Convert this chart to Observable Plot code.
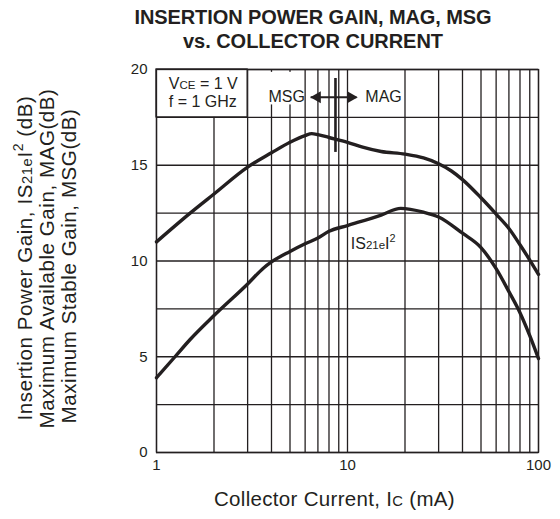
<!DOCTYPE html>
<html>
<head>
<meta charset="utf-8">
<script src="https://cdn.jsdelivr.net/npm/d3@7"></script>
<script src="https://cdn.jsdelivr.net/npm/@observablehq/plot@0.6"></script>
<style>
  html, body { margin: 0; padding: 0; background: white; }
  #wrap { width: 560px; height: 519px; position: relative; overflow: hidden; }
  #title { height: 56px; box-sizing: border-box; padding-top: 5px; padding-left: 66px; text-align: center;
           font-family: "Liberation Sans", Arial, sans-serif; font-weight: bold; font-size: 20px;
           line-height: 24px; color: #231f20; white-space: nowrap; }
  svg { display: block; }
</style>
</head>
<body>
<div id="wrap">
  <div id="title"><span class="tl">INSERTION POWER GAIN, MAG, MSG</span><br><span class="tl">vs. COLLECTOR CURRENT</span></div>
  <div id="chart"></div>
</div>
<script>
// ---- data ----
const xTicks = [1, 10, 100];
const yTicks = [0, 5, 10, 15, 20];
const xGrid = [1, 2, 3, 4, 5, 6, 7, 8, 9, 10, 20, 30, 40, 50, 60, 70, 80, 90, 100];
const yGrid = [0, 2.5, 5, 7.5, 10, 12.5, 15, 17.5, 20];

// MSG / MAG curve
const currentMag = [1, 1.5, 2, 3, 4, 5, 6, 6.5, 7, 8, 10, 12, 15, 20, 25, 30, 35, 40, 50, 60, 70, 80, 90, 100];
const gainMag    = [11.0, 12.5, 13.5, 14.9, 15.65, 16.2, 16.55, 16.65, 16.6, 16.45, 16.2, 15.95, 15.72, 15.58, 15.38, 15.08, 14.7, 14.25, 13.3, 12.45, 11.7, 10.85, 10.05, 9.3];

// |S21e|^2 curve
const currentS21 = [1, 1.25, 1.5, 2, 3, 3.65, 4, 5, 6, 7, 8, 10, 15, 19, 25, 30, 40, 50, 60, 70, 80, 90, 100];
const gainS21    = [3.9, 5.0, 5.9, 7.15, 8.8, 9.65, 9.95, 10.5, 10.9, 11.2, 11.55, 11.85, 12.4, 12.75, 12.55, 12.3, 11.45, 10.7, 9.6, 8.4, 7.3, 6.1, 4.9];

// annotations
const legendLines = ["V_{CE} = 1 V", "f = 1 GHz"];
const legendX = 1.16;
const legendY = [19.25, 18.3];
const legendBox = {x1: 1, x2: 3, y1: 17.5, y2: 20};
const msgBox = {x1: 3.85, x2: 5.95, y1: 18.15, y2: 19.85};
const msgLabel = {x: 4.8, y: 18.55, text: "MSG"};
const magLabel = {x: 12.4, y: 18.55, text: "MAG"};
const arrowLine = {x1: 6.45, x2: 11.2, y: 18.55};
const arrowHeads = [{x: 6.95, y: 18.55, rot: -90}, {x: 10.4, y: 18.55, rot: 90}];
const boundary = {x: 8.65, y1: 15.67, y2: 19.53};
const s21Label = {x: 10.4, y: 10.9, text: "IS_{21e}I^{2}"};
const xLabel = "Collector Current, I_{C} (mA)";
const yLabels = ["Insertion Power Gain, IS_{21e}I^{2} (dB)", "Maximum Available Gain, MAG(dB)", "Maximum Stable Gain, MSG(dB)"];

// text widths measured on the reference (px), used to match letter spacing
const titleWidths = [357, 260];
const xLabelWidth = 241;
const yLabelWidths = [325, 340, 315];

const ink = "#231f20";
const magData = currentMag.map((c, i) => ({c, g: gainMag[i]}));
const s21Data = currentS21.map((c, i) => ({c, g: gainS21[i]}));

const plot = Plot.plot({
  width: 560,
  height: 463,
  marginTop: 13,
  marginLeft: 156,
  marginRight: 22,
  marginBottom: 67,
  x: {type: "log", domain: [1, 100]},
  y: {domain: [0, 20]},
  style: {fontFamily: "'Liberation Sans', Arial, sans-serif", color: ink, background: "white", fontSize: "15px", overflow: "visible"},
  marks: [
    Plot.ruleX(xGrid, {stroke: ink, strokeWidth: 1.3}),
    Plot.ruleY(yGrid, {stroke: ink, strokeWidth: 1.3}),
    Plot.rect([legendBox], {x1: "x1", x2: "x2", y1: "y1", y2: "y2", fill: "white", stroke: ink, strokeWidth: 1.3}),
    Plot.rect([msgBox], {x1: "x1", x2: "x2", y1: "y1", y2: "y2", fill: "white"}),
    Plot.text(legendLines, {x: () => legendX, y: (d, i) => legendY[i], text: d => d, textAnchor: "start", fontSize: 16, fill: ink}),
    Plot.text([msgLabel], {x: "x", y: "y", text: "text", fontSize: 16, fill: ink}),
    Plot.text([magLabel], {x: "x", y: "y", text: "text", textAnchor: "start", fontSize: 16, fill: ink}),
    Plot.ruleY([arrowLine], {x1: "x1", x2: "x2", y: "y", stroke: ink, strokeWidth: 1.8}),
    Plot.dot(arrowHeads, {x: "x", y: "y", rotate: "rot", symbol: "triangle", r: 4.5, fill: ink, stroke: "none"}),
    Plot.ruleX([boundary], {x: "x", y1: "y1", y2: "y2", stroke: ink, strokeWidth: 2.6}),
    Plot.line(magData, {x: "c", y: "g", stroke: ink, strokeWidth: 3.4, curve: "monotone-x"}),
    Plot.line(s21Data, {x: "c", y: "g", stroke: ink, strokeWidth: 3.4, curve: "monotone-x"}),
    Plot.text([s21Label], {x: "x", y: "y", text: "text", textAnchor: "start", fontSize: 16, fill: ink}),
    Plot.frame({stroke: ink, strokeWidth: 1.3}),
    Plot.axisX(xTicks, {tickSize: 0, tickPadding: 7, fontSize: 15, label: null, tickFormat: d => String(d)}),
    Plot.axisY(yTicks, {tickSize: 0, tickPadding: 9, fontSize: 15, label: null, tickFormat: d => String(d)}),
    Plot.text([xLabel], {frameAnchor: "bottom", textAnchor: "middle", dy: 53, dx: -13, fontSize: 20.5, fill: ink}),
    Plot.text([yLabels[0]], {frameAnchor: "left", textAnchor: "middle", rotate: -90, dx: -131, dy: -3, fontSize: 20.5, fill: ink}),
    Plot.text([yLabels[1]], {frameAnchor: "left", textAnchor: "middle", rotate: -90, dx: -109, dy: -2.5, fontSize: 20.5, fill: ink}),
    Plot.text([yLabels[2]], {frameAnchor: "left", textAnchor: "middle", rotate: -90, dx: -87, dy: 5, fontSize: 20.5, fill: ink})
  ]
});

// rich text: _{..} small subscript-like, ^{..} superscript
function richify(el) {
  const s = el.textContent;
  if (!/[_^]\{/.test(s)) return;
  const parts = [];
  const re = /([_^])\{([^}]*)\}/g;
  let last = 0, m;
  while ((m = re.exec(s))) {
    if (m.index > last) parts.push({t: s.slice(last, m.index), k: ""});
    parts.push({t: m[2], k: m[1]});
    last = re.lastIndex;
  }
  if (last < s.length) parts.push({t: s.slice(last), k: ""});
  const fs = parseFloat(getComputedStyle(el).fontSize) || 16;
  el.textContent = "";
  let shift = 0;
  for (const p of parts) {
    const ts = document.createElementNS("http://www.w3.org/2000/svg", "tspan");
    ts.textContent = p.t;
    let target = 0;
    if (p.k === "_") { ts.setAttribute("font-size", (fs * 0.72) + "px"); target = 0; }
    else if (p.k === "^") { ts.setAttribute("font-size", (fs * 0.68) + "px"); target = -fs * 0.42; }
    const d = target - shift;
    if (d !== 0) ts.setAttribute("dy", d);
    shift = target;
    el.appendChild(ts);
  }
}

document.getElementById("chart").appendChild(plot);

const fitTargets = new Map([[xLabel, xLabelWidth], [yLabels[0], yLabelWidths[0]], [yLabels[1], yLabelWidths[1]], [yLabels[2], yLabelWidths[2]]]);
plot.querySelectorAll("text").forEach(el => {
  const raw = el.textContent;
  richify(el);
  if (fitTargets.has(raw)) {
    const len = el.getComputedTextLength();
    const n = el.textContent.length;
    const ls = (fitTargets.get(raw) - len) / n;
    el.style.letterSpacing = ls + "px";
  }
});

document.querySelectorAll("#title .tl").forEach((s, i) => {
  const w = s.getBoundingClientRect().width;
  const n = s.textContent.length;
  s.style.letterSpacing = ((titleWidths[i] - w) / n) + "px";
});
</script>
</body>
</html>
